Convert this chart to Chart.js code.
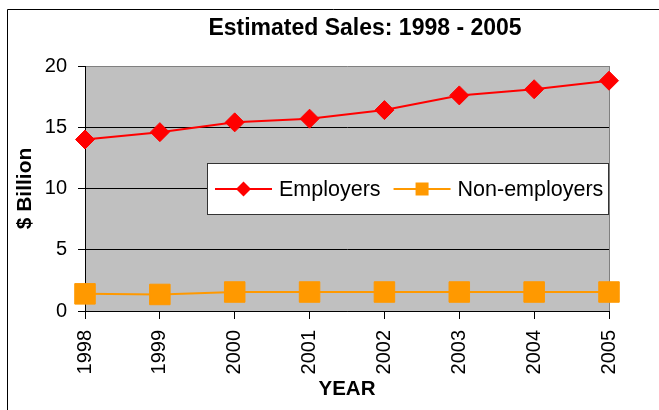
<!DOCTYPE html>
<html><head><meta charset="utf-8">
<script src="https://cdn.jsdelivr.net/npm/chart.js@4"></script>
<style>html,body{margin:0;padding:0;background:#fff}#wrap{width:659px;height:410px;position:relative}</style>
</head><body><div id="wrap"><canvas id="c" width="659" height="410"></canvas></div>
<script>
const titleText = 'Estimated Sales: 1998 - 2005';
const years = ['1998', '1999', '2000', '2001', '2002', '2003', '2004', '2005'];
const employers = [14.0, 14.6, 15.4, 15.7, 16.4, 17.6, 18.1, 18.8];
const nonEmployers = [1.4, 1.35, 1.55, 1.55, 1.55, 1.55, 1.55, 1.55];
const seriesNames = ['Employers', 'Non-employers'];
const yAxisTitle = '$ Billion';
const xAxisTitle = 'YEAR';
const yMin = 0, yMax = 20, yStep = 5;

const FONT = "'Liberation Sans', Arial, sans-serif";

function drawMarker(ctx, style, x, y, r, color) {
  ctx.save();
  ctx.fillStyle = color;
  ctx.beginPath();
  if (style === 'rectRot') {
    ctx.moveTo(x - r, y); ctx.lineTo(x, y - r); ctx.lineTo(x + r, y); ctx.lineTo(x, y + r);
  } else {
    ctx.rect(x - r, y - r, 2 * r, 2 * r);
  }
  ctx.closePath();
  ctx.fill();
  ctx.restore();
}

const decor = {
  id: 'decor',
  beforeDraw(chart) {
    const {ctx, chartArea: a} = chart;
    ctx.save();
    ctx.fillStyle = '#C0C0C0';
    ctx.fillRect(a.left, a.top, a.right - a.left, a.bottom - a.top);
    ctx.strokeStyle = '#000';
    ctx.lineWidth = 1;
    ctx.beginPath();
    ctx.moveTo(7.5, chart.height);
    ctx.lineTo(7.5, 9.5);
    ctx.lineTo(chart.width, 9.5);
    ctx.stroke();
    ctx.restore();
  },
  beforeDatasetsDraw(chart) {
    const {ctx, chartArea: a} = chart;
    ctx.save();
    ctx.strokeStyle = '#808080';
    ctx.lineWidth = 1;
    ctx.beginPath();
    const x = Math.round(a.right) + 0.5;
    ctx.moveTo(x, a.top);
    ctx.lineTo(x, a.bottom);
    ctx.stroke();
    ctx.restore();
  },
  afterDraw(chart) {
    const {ctx, chartArea: a} = chart;
    ctx.save();
    // title
    ctx.fillStyle = '#000';
    ctx.font = 'bold 23px ' + FONT;
    ctx.textAlign = 'center';
    ctx.textBaseline = 'middle';
    ctx.fillText(titleText, 365, 29);
    // legend
    const L = 207, T = 163, H = 52, R = a.right;
    ctx.fillStyle = '#fff';
    ctx.fillRect(L, T, R - L, H);
    ctx.strokeStyle = '#333';
    ctx.lineWidth = 1;
    ctx.strokeRect(L + 0.5, T + 0.5, R - L - 1, H - 1);
    ctx.font = '21.5px ' + FONT;
    ctx.textAlign = 'left';
    ctx.textBaseline = 'middle';
    const cy = T + H / 2;
    let x = L + 8;
    chart.data.datasets.forEach((ds) => {
      ctx.strokeStyle = ds.borderColor;
      ctx.lineWidth = 2;
      ctx.beginPath();
      ctx.moveTo(x, cy); ctx.lineTo(x + 57, cy);
      ctx.stroke();
      drawMarker(ctx, ds.pointStyle, x + 28.5, cy, ds.pointStyle === 'rectRot' ? 7.5 : 6.5, ds.backgroundColor);
      ctx.fillStyle = '#000';
      const tx = x + 64;
      ctx.fillText(ds.label, tx, cy + 1);
      x = tx + ctx.measureText(ds.label).width + 13;
    });
    ctx.restore();
  }
};

new Chart(document.getElementById('c'), {
  type: 'line',
  data: {
    labels: years,
    datasets: [
      {label: seriesNames[0], data: employers, borderColor: '#FF0000', backgroundColor: '#FF0000',
       borderWidth: 2, pointStyle: 'rectRot', pointRadius: 9.5, pointBorderWidth: 1, tension: 0, clip: false},
      {label: seriesNames[1], data: nonEmployers, borderColor: '#FF9900', backgroundColor: '#FF9900',
       borderWidth: 2, pointStyle: 'rect', pointRadius: 14.5, pointBorderWidth: 1, tension: 0, clip: false}
    ]
  },
  options: {
    responsive: false,
    animation: false,
    devicePixelRatio: 1,
    layout: {padding: {top: 66, right: 50, left: 0, bottom: 0}},
    plugins: {legend: {display: false}, tooltip: {enabled: false}, title: {display: false}},
    scales: {
      x: {
        type: 'category', offset: false,
        grid: {drawOnChartArea: false, drawTicks: true, tickLength: 8, color: '#000'},
        border: {color: '#000', width: 1},
        ticks: {minRotation: 90, maxRotation: 90, autoSkip: false, padding: 11, color: '#000', font: {family: FONT, size: 20}},
        title: {display: true, text: xAxisTitle, color: '#000', font: {family: FONT, size: 20.5, weight: 'bold'}, padding: {top: 0, bottom: 8.5}},
        afterFit(s) { s.height = 99; }
      },
      y: {
        min: yMin, max: yMax,
        ticks: {stepSize: yStep, padding: 11, color: '#000', font: {family: FONT, size: 20}},
        grid: {color: (c) => (c.tick && c.tick.value === yMax ? '#808080' : '#000'), tickLength: 7, tickColor: '#000'},
        border: {color: '#000', width: 1},
        title: {display: true, text: yAxisTitle, color: '#000', font: {family: FONT, size: 21, weight: 'bold'}, padding: {top: 12.4, bottom: 0}},
        afterFit(s) { s.width = 85; }
      }
    }
  },
  plugins: [decor]
});
</script>
</body></html>
